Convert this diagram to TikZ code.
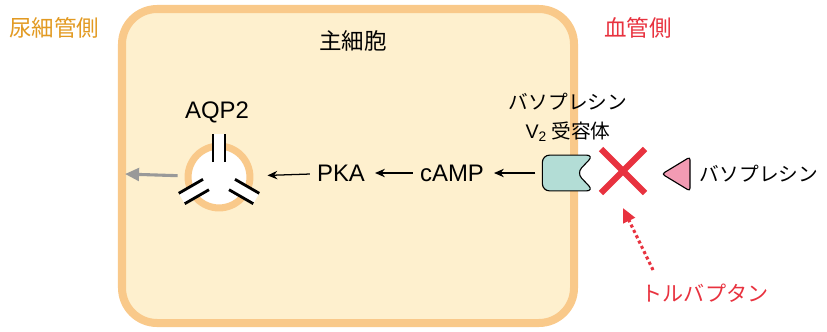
\documentclass[tikz,border=0pt]{standalone}
\usepackage{fontspec}
\setmainfont{Liberation Sans}
\newfontfamily\jp{Noto Sans CJK JP}
\usetikzlibrary{arrows.meta,shapes.misc}
\definecolor{cellfill}{HTML}{FEF0CE}
\definecolor{cellline}{HTML}{F9C98A}
\definecolor{lumen}{HTML}{E29A22}
\definecolor{blood}{HTML}{E8323F}
\definecolor{recep}{HTML}{B3DDD6}
\definecolor{hormone}{HTML}{F29BB3}

\begin{document}
\begin{tikzpicture}[x=0.025cm,y=-0.025cm]
	\useasboundingbox (0,0) rectangle (827,331);
	\tikzset{Side/.style={font=\jp\fontsize{16}{19}\selectfont},
	Kana/.style={font=\jp\fontsize{14}{20.5}\selectfont, align=center},
	Latin/.style={font=\fontsize{17}{20}\selectfont, inner sep=0pt},
	Arr/.style={-{Stealth[length=7pt,width=6pt]}, line width=0.9pt, shorten <=5pt, shorten >=7pt}}
	% cell body
	\draw[line width=5.7pt, draw=cellline, fill=cellfill, rounded corners=25pt] (122,9) rectangle (574,323);
	\node[Side, text=lumen] (lumen) at (54,28) {尿細管側};
	\node[Side] (cell) at (353,41) {主細胞};
	\node[Side, text=blood] (blood) at (638,28) {血管側};
	% AQP2 channel
	\node[circle, draw=cellline, fill=white, line width=5pt, minimum size=44pt, inner sep=0] (aqp) at (219,177) {};
	\foreach \a in {90,210,330}{
		\begin{scope}[shift={(aqp.center)}, rotate=\a]
			\fill[white] (0.375cm,-0.15cm) rectangle (1.075cm,0.15cm);
			\draw[line width=2pt] (0.375cm,-0.15cm) -- (1.075cm,-0.15cm) (0.375cm,0.15cm) -- (1.075cm,0.15cm);
		\end{scope}
	}
	\node[Latin] (aqplabel) at (217,112) {AQP2};
	\coordinate (exit) at (125,174);
	\draw[-{Triangle[length=10pt,width=9pt]}, line width=2.2pt, draw=black!40, shorten <=5pt] (aqp) -- (exit);
	% signalling chain
	\node[Latin] (pka) at (341,173) {PKA};
	\node[Latin] (camp) at (452,173) {cAMP};
	\node[inner sep=0, minimum width=36pt, minimum height=25pt] (rec) at (568,173) {};
	\draw[fill=recep, line width=0.8pt, rounded corners=5pt] (rec.north east) -- (rec.north west) -- (rec.south west) -- (rec.south east) -- ([xshift=-12pt]rec.east) -- cycle;
	\node[Kana] (reclabel) at (568,117) {バソプレシン\\{\rmfamily V\textsubscript{2}} 受容体};
	\draw[Arr] (rec) -- (camp);
	\draw[Arr] (camp) -- (pka);
	\draw[Arr, shorten >=10pt] (pka) -- (aqp);
	% vasopressin and tolvaptan
	\node[cross out, draw=blood, line width=4.3pt, minimum size=27pt, inner sep=0] (xmark) at (623,171) {};
	\node[Kana, anchor=west] (vp) at (695,174) {バソプレシン};
	\draw[fill=hormone, line width=0.8pt, rounded corners=2pt] (662,174) -- (690,157) -- (690,191) -- cycle;
	\node[font=\jp\fontsize{15}{18}\selectfont, text=blood] (tol) at (705,293) {トルバプタン};
	\coordinate (tail) at (653,270);
	\coordinate (tip) at (623,208);
	\draw[blood, dotted, line width=2.2pt, -{Triangle[length=10pt,width=9pt]}] (tail) -- (tip);
\end{tikzpicture}
\end{document}
